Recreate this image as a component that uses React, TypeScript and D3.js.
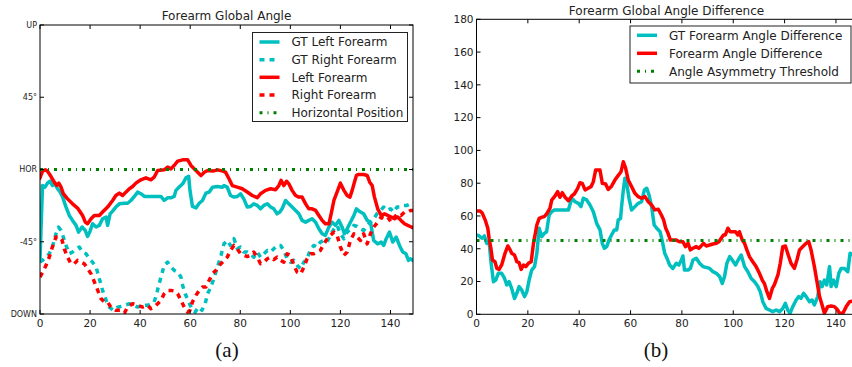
import React from 'react';
import * as d3 from 'd3';

type P = [number, number];

// ---------- Chart (a): Forearm Global Angle (frame, degrees) ----------
const framesTicks = [0, 20, 40, 60, 80, 100, 120, 140];
const angleTickValues = [90, 45, 0, -45, -90];
const angleTickLabels = ['UP', '45°', 'HOR', '-45°', 'DOWN'];

const gtLeftForearm: P[] = [
  [0, -56], [1, -10], [2, -11], [3, -8.5], [4, -7.3], [5, -10], [6, -9], [7, -12], [8, -14], [9, -17],
  [10.4, -23.4], [11.7, -28.6], [13, -31.7], [14.4, -34.8], [15.4, -39], [16.8, -35.8], [18.1, -38],
  [19, -41.7], [20, -38.4], [21, -33.8], [22.4, -35.8], [23.7, -34.8], [25, -30.7], [26.4, -29.6],
  [27, -34.8], [28, -27.6], [29, -25.9], [30.3, -23.4], [31.7, -21.4], [33.7, -21], [35, -21],
  [36.3, -19.3], [37.7, -16.8], [39, -14.1], [40.3, -15.1], [41.7, -16.8], [43.7, -16.8], [46.3, -16.8],
  [48.3, -16.8], [49.6, -19.3], [51, -17.6], [52.3, -17.6], [53.6, -16.8], [54.3, -13], [55.6, -10.9],
  [57, -8.9], [58.3, -5.2], [59.4, -4.3], [59.9, -13], [60.9, -23], [62.3, -23.9], [63.6, -21],
  [64.9, -19.3], [66.3, -14.7], [67.6, -14], [68.9, -11], [70.9, -10.6], [72.9, -11], [73.5, -10],
  [74.8, -11], [76.1, -16.2], [77.5, -17.2], [78.8, -16.8], [80.1, -15.1], [81.4, -18.3], [82.8, -23.4],
  [84.1, -23], [85.4, -21.4], [86.8, -22.4], [88.1, -24.5], [89.4, -22.4], [90.8, -21.4], [92.1, -23.4],
  [93.4, -24.5], [94.7, -27.6], [95.8, -26.5], [96.7, -24.5], [98.1, -19.3], [99.4, -21.4], [100.7, -23.4],
  [102.1, -25.5], [103.4, -27.6], [104.7, -31.7], [106.1, -32.8], [107.4, -31.7], [108.7, -30.7],
  [110.1, -32.8], [111.4, -36.9], [112.7, -40], [114, -41], [115.4, -35.9], [116.7, -32.8], [118, -34.8],
  [119.4, -31.7], [120.7, -35.9], [121.6, -40], [122.7, -36.9], [124, -32.8], [125.4, -28.6],
  [126.4, -24.5], [128, -26.5], [129.3, -27.6], [130.7, -31.7], [132, -32.8], [133.3, -44.2],
  [134.9, -46.3], [136.3, -45.2], [137.3, -47.3], [138.3, -43.1], [139.6, -39], [140.9, -45.2],
  [142.3, -42.1], [143.6, -47.3], [144.9, -51.4], [146.2, -52.5], [147.2, -56.6], [147.9, -55.6],
  [149, -56.6]
];

const gtRightForearm: P[] = [
  [0, -57.7], [1, -56.6], [2.4, -54.6], [3.7, -52.5], [5, -48], [6.4, -40], [7.4, -35.9], [8.4, -38],
  [9.3, -42], [10.4, -47.3], [11.7, -52.5], [13, -51.4], [14.4, -49.4], [15.7, -48.3], [17, -51.4],
  [18.4, -52.5], [19.7, -55.6], [21, -57.7], [22.4, -60.8], [23.7, -68], [25, -75.3], [26.4, -81.5],
  [27.7, -85.7], [29.3, -87.7], [31, -85.7], [32.3, -85.3], [33.7, -84.6], [35.7, -83.6], [37.7, -84.6],
  [39, -85.7], [41, -84.6], [43, -84.6], [44.3, -83.6], [45.6, -82.5], [46.6, -77.4], [47.6, -71],
  [48.7, -65], [49.6, -59.7], [51, -57.7], [52.3, -60.8], [53.6, -62.8], [55, -63.9], [56.3, -67],
  [57, -72.2], [58, -77.4], [59.4, -82.5], [60.7, -86.7], [62, -88.8], [63.3, -85.7], [64.7, -87.7],
  [66, -83.6], [66.9, -77.4], [68.3, -73.2], [69.6, -67], [70.9, -60.8], [72.3, -53.5], [73.5, -46.3],
  [74.8, -44.2], [76.1, -47.3], [77.5, -43.1], [78.8, -49.4], [80.1, -48.3], [81.4, -51.4], [82.8, -51.4],
  [84.1, -52.5], [85.4, -54.6], [86.8, -51.4], [88.1, -54.6], [89.4, -52.5], [90.8, -50.4], [92.1, -51.4],
  [93.4, -49.4], [94.7, -47.3], [96.1, -47.3], [97.4, -50.4], [98.7, -55.6], [100.1, -57.7],
  [101.4, -56.6], [102.7, -59.7], [104.1, -61.8], [105.4, -57.7], [106.7, -55.6], [108.1, -49.4],
  [109.4, -47.3], [110.7, -48.3], [112, -45.2], [113.4, -44.2], [114.7, -45.2], [116, -41], [117.4, -37.1],
  [118.7, -34.8], [120, -40], [121.4, -43.2], [122.7, -39], [124, -37.1], [125.4, -34.8], [126.7, -35.5],
  [128, -37.1], [129.3, -38], [130.7, -34.8], [132, -32.8], [133.3, -30.7], [134.6, -27.6], [136, -25.5],
  [137.3, -23.4], [138.6, -25.5], [140, -24.5], [141.3, -26.5], [142.6, -23.4], [144, -23.4],
  [145.3, -22.4], [146.6, -22.4], [148, -21.4], [149, -21.4]
];

const leftForearm: P[] = [
  [0, -5.2], [1, -1], [2.1, -0.2], [3, -1], [4.4, -4.4], [5.7, -7.9], [6.7, -9.9], [7.5, -8.5],
  [8.4, -11], [9.3, -15], [11, -18.3], [13, -21.4], [15, -24], [17, -28.6], [18.1, -32.8], [19, -33.8],
  [20.4, -30.7], [21.7, -28.6], [23.7, -28.6], [25, -26.5], [27, -23.4], [29, -19.3], [30.3, -16.2],
  [31.7, -14.7], [33, -16.2], [34.3, -14.1], [35.7, -12], [37, -10.6], [38.3, -8.5], [40.3, -6.4],
  [42.3, -5.2], [44.3, -6.4], [45.6, -4.8], [47, -0.6], [49.6, -0.2], [51, 1.5], [52.3, 0.4], [53.6, 2.5],
  [55, 5.2], [57, 6], [59, 6], [60.3, 2.5], [61.6, 0.4], [63, -1.7], [64.3, -3.8], [65.6, -1.7],
  [67, -0.6], [69, -1], [71, -0.2], [73, -1], [74.1, -1.6], [75.5, -5.8], [76.8, -10], [78.8, -11],
  [80.8, -12], [82.8, -14], [84.8, -16.2], [86.8, -17.6], [88.1, -15.1], [90.1, -13], [92.1, -12],
  [94.1, -12.6], [95.4, -10], [96.3, -6.8], [97.4, -10], [98.5, -7.3], [99.4, -8.9], [100.7, -13],
  [102.1, -16.2], [103.4, -17.2], [104.7, -17.2], [106.1, -21.4], [107.4, -24.5], [108.7, -24.5],
  [110.1, -25.5], [111.4, -28.6], [112.7, -31.7], [114, -33.8], [115.4, -33.8], [116.3, -27.6],
  [117.4, -19.3], [118.7, -14], [120, -8.5], [121.4, -13], [122.7, -16.2], [123.8, -17.2], [124.7, -13],
  [125.6, -7.9], [126.4, -3.7], [127.3, -3.1], [129.3, -3.1], [130.7, -3.7], [131.7, -7.9], [132.7, -10],
  [133.6, -17.2], [134.9, -24.5], [136.3, -28.6], [137.6, -27.6], [138.9, -28.6], [140.3, -29.6],
  [141.6, -30.7], [142.9, -29.6], [144.2, -31.7], [145.6, -33.8], [146.9, -34.8], [147.9, -35.5],
  [149, -36.3]
];

const rightForearm: P[] = [
  [0, -67], [1, -64], [2.4, -59.7], [3.7, -54.6], [5, -48], [6.4, -42], [7.7, -41.7], [8.8, -44],
  [9.7, -49.4], [11, -54.6], [12.4, -58.7], [13.7, -58.7], [15, -56.6], [16.4, -57.7], [17.7, -58.7],
  [19, -61.8], [20.4, -65], [21.7, -70], [23, -75], [24.4, -80.5], [25.7, -82.5], [27, -82.5],
  [28.3, -85.7], [30.3, -87.7], [32.3, -87.7], [33.7, -89.4], [35, -85.7], [37, -83.6], [39, -84.6],
  [41, -85.7], [43, -84.6], [44.3, -86.7], [45.6, -85.7], [47, -83.6], [48.3, -81.5], [49.6, -77.4],
  [51, -75.3], [52.3, -75.3], [53.6, -75.7], [55, -77.4], [56.3, -81.5], [57.6, -85.7], [59, -88.8],
  [59.9, -87.7], [60.9, -82.5], [62.3, -78.4], [63.6, -75.3], [64.9, -73.2], [66.3, -73.2], [67.6, -69],
  [68.9, -64.9], [70.3, -62.8], [71.6, -59.7], [72.9, -57.7], [74.8, -54.6], [76.1, -50.4], [77.5, -47.3],
  [78.8, -49.4], [80.1, -52.5], [81.4, -53.5], [82.8, -54.2], [84.1, -53.5], [85.4, -51.4], [86.8, -54.6],
  [88.1, -58.7], [89.4, -57.7], [90.8, -55.6], [92.1, -54.6], [93.4, -56.2], [94.7, -54.6], [96.1, -56.6],
  [97.4, -57.7], [98.7, -52.5], [100.1, -53.5], [101.4, -59.7], [102.7, -63.9], [104.1, -65],
  [105.4, -60.8], [106.7, -55.6], [108.1, -52.5], [109.4, -52.5], [110.7, -51.4], [112, -50.4],
  [113.4, -46.3], [114.7, -43.2], [116, -41], [117.4, -39], [118.7, -41], [120, -48.3], [121.4, -53.5],
  [122.7, -51.4], [124, -44.2], [125.4, -40], [126.7, -42.1], [128, -44.2], [129.3, -40], [130.7, -46.3],
  [132, -40], [133.3, -35.9], [134.9, -32.8], [136.3, -29.6], [137.6, -30.7], [138.9, -29.6],
  [140.3, -32.8], [141.6, -29.6], [142.9, -27.6], [144.2, -28.6], [145.6, -26.5], [146.9, -26.5],
  [148, -25.5], [149, -25.5]
];

const horizontalLevel: P[] = [[0, 0], [149, 0]];

// ---------- Chart (b): Forearm Global Angle Difference ----------
const diffTickValues = [0, 20, 40, 60, 80, 100, 120, 140, 160, 180];

const gtAngleDifference: P[] = [
  [0, 48.4], [1, 47.8], [2.1, 46.4], [3.1, 47.8], [4, 43.3], [4.9, 44.3], [5.7, 31.1], [6.6, 19.9],
  [7.5, 20.9], [8.5, 25], [9.8, 25], [10.9, 22], [11.8, 17.9], [12.7, 19.9], [13.7, 15.8], [14.8, 9.7],
  [15.7, 12.8], [16.6, 16.9], [17.6, 14.8], [18.7, 10.8], [19.6, 13.8], [20.5, 20.9], [21.5, 27],
  [22.6, 29.1], [23.5, 37.2], [24.4, 52.5], [25.4, 47.4], [26.4, 49.4], [27.3, 50.4], [28.3, 60.6],
  [29.3, 62.6], [30.3, 63.6], [31.9, 63.6], [33.8, 63.6], [35.8, 63.6], [37.1, 70.8], [38.4, 68.7],
  [39.7, 67.7], [40.7, 65.7], [41.6, 70.8], [42.9, 69.8], [44.2, 66.7], [45.5, 62.6], [46.8, 55.5],
  [48.1, 51.5], [49, 43.3], [49.8, 40.3], [50.7, 41.3], [51.6, 45.3], [52.6, 48.4], [53.7, 51.5],
  [54.6, 51.5], [55.2, 57.6], [56.1, 58.5], [56.5, 65.7], [57.2, 75.9], [57.8, 83], [58.5, 79.9],
  [59.4, 70.8], [60.4, 63.6], [61.7, 65.7], [63, 67.7], [64.3, 68.7], [65.4, 75.9], [66.3, 76.9],
  [67.2, 72.8], [68.2, 65.7], [69.2, 54.5], [70.2, 52.5], [71.5, 50.4], [72.4, 44.3], [73.3, 37.2],
  [74.2, 34.2], [75.2, 30.1], [76.5, 28], [77.8, 31.1], [78.8, 30.1], [79.8, 33.1], [80.4, 35.6],
  [81, 27], [82.4, 27], [83.3, 28], [84.3, 33.1], [85.6, 34.2], [86.9, 31.1], [88.2, 29.1], [89.5, 28.6],
  [90.8, 28], [92.1, 26], [93.4, 25], [94.7, 23], [95.7, 18.9], [96.6, 23], [97.5, 31.1], [98.6, 35.2],
  [99.6, 33.1], [100.9, 30.1], [101.9, 33.1], [103.1, 36.2], [104.4, 29.1], [105.7, 26], [107, 21.9],
  [108.3, 19.9], [109.6, 16.9], [110.5, 13.8], [111.5, 7.7], [112.8, 3.6], [114.1, 2.6], [115.4, 1.6],
  [116.7, 2.6], [118, 1.6], [119.3, 3.6], [120.3, 6.7], [121.2, 2.6], [122.1, 0.6], [123.2, 4.7],
  [124.5, 8.7], [125.5, 10.8], [126.4, 9.8], [127.4, 12.8], [128.4, 10.8], [129.7, 7.7], [130.7, 8.7],
  [131.6, 5.7], [132.9, 10.8], [133.8, 19.9], [134.6, 16.9], [135.5, 20.9], [136.4, 17.9], [137.5, 29.1],
  [138.1, 16.9], [139, 20.9], [140.1, 16.9], [141.1, 25], [142, 28], [143.3, 28], [144.6, 26],
  [145.5, 37.2], [147, 36], [148, 38]
];

const angleDifference: P[] = [
  [0, 63], [1.4, 63], [2.3, 61.6], [3.4, 57.5], [4.4, 52.5], [4.9, 46.4], [5.7, 39.3], [6.2, 33.1],
  [7.2, 32.1], [7.9, 28], [8.8, 27.4], [9.8, 30.1], [11.1, 37.2], [12.2, 41.7], [13.1, 39.3], [13.7, 37.2],
  [14.8, 36.2], [15.7, 32.1], [16.6, 31.5], [17.4, 27.4], [18.3, 30.1], [19.2, 29.1], [20.2, 31.1],
  [21.3, 32.1], [22.2, 43.3], [23.5, 54.5], [24.4, 58.5], [25.4, 59.2], [26.4, 59.6], [27.3, 61.2],
  [28.6, 64.7], [29.3, 69.7], [30.6, 72.2], [31.6, 74.8], [32.5, 71.4], [33.4, 74.2], [34.5, 71.4],
  [35.8, 69.3], [37.1, 72.2], [38.1, 73.4], [39.4, 76.8], [40.3, 80.3], [41.2, 79.9], [42.3, 75.9],
  [43.3, 76.8], [44.6, 77.9], [45.5, 80.9], [46.4, 88], [48.1, 88], [49, 79.9], [50.3, 79.5], [51.3, 76.2],
  [52.6, 78.2], [53.9, 81.9], [55, 84.3], [56.3, 87], [57.2, 93.1], [58.1, 89.1], [59.1, 81.9],
  [60.4, 77.9], [61.7, 73.8], [63, 71.8], [64.3, 70.8], [65.6, 71.8], [66.9, 68.7], [68.2, 66.7],
  [69.5, 63.7], [70.8, 64.1], [72, 60.6], [72.9, 57.5], [73.7, 52.5], [74.6, 49.4], [75.5, 45.3],
  [76.5, 45.3], [77.8, 45.3], [79.1, 44.3], [80.4, 44.3], [81.4, 41.3], [82.4, 43.3], [83.3, 39.3],
  [84.3, 40.3], [85.6, 41.3], [86.6, 40.3], [87.5, 41.7], [88.4, 43.3], [89.5, 41.7], [90.8, 42.3],
  [92.1, 42.9], [93.4, 43.3], [94.4, 44.3], [95.3, 46.4], [96.2, 48.4], [96.9, 48.4], [97.9, 52.5],
  [98.8, 50.4], [99.9, 50.4], [100.9, 50.4], [101.8, 48.4], [102.4, 50.4], [103.5, 45.3], [104.4, 43.3],
  [105.3, 39.3], [106.3, 35.2], [107.6, 32.1], [108.9, 29.1], [110.2, 25], [111.3, 20.9], [112.2, 18.5],
  [113.1, 13.8], [114.1, 9.7], [115.2, 15.8], [116, 17.9], [117.4, 24], [118.3, 31.1], [119.3, 41.3],
  [120.3, 41.7], [121.2, 37.2], [122.5, 31.1], [123.8, 28], [124.8, 33.1], [125.8, 39.3], [127.1, 41.3],
  [128.4, 43.3], [129.4, 44.3], [130.3, 39.3], [131.6, 29.1], [132.5, 20.9], [133.6, 10.8], [134.6, 5.7],
  [135.5, 0.6], [136.8, 4.7], [138.1, 5.1], [139.4, 4.7], [140.7, 2.6], [141.4, 0.6], [142.7, 0.6],
  [144, 4.7], [145.3, 7.7], [146.5, 8], [148, 8.5]
];

const asymmetryThreshold: P[] = [[0, 45], [148, 45]];

const CYAN = '#00bfbf';
const RED = '#ff0000';
const GREEN = '#008000';
const FONT = '"DejaVu Sans", sans-serif';

type Series = { data: P[]; color: string; dash?: string; width: number; label: string };

function Axes(props: {
  id: string;
  x: d3.ScaleLinear<number, number>;
  y: d3.ScaleLinear<number, number>;
  yTicks: number[];
  yLabels: string[];
  yFont: number;
  xTicks: number[];
  title: string;
  titleY: number;
  series: Series[];
  legend: { x: number; y: number; w: number; h: number; rowY: number[] };
}) {
  const { id, x, y, yTicks, yLabels, yFont, xTicks, title, titleY, series, legend } = props;
  const [x0, x1] = x.range();
  const [yb, yt] = y.range();
  const line = d3.line<P>().x(d => x(d[0])).y(d => y(d[1]));
  const tl = 4;
  return (
    <g>
      <defs>
        <clipPath id={id}>
          <rect x={x0} y={yt} width={x1 - x0} height={yb - yt} />
        </clipPath>
      </defs>
      <rect x={x0} y={yt} width={x1 - x0} height={yb - yt} fill="#fff" />
      <g clipPath={`url(#${id})`}>
        {series.map((s, i) => (
          <path key={i} d={line(s.data) || ''} fill="none" stroke={s.color} strokeWidth={s.width}
            strokeDasharray={s.dash} strokeLinejoin="round" strokeLinecap={s.dash ? 'butt' : 'square'} />
        ))}
      </g>
      {/* ticks */}
      {xTicks.map(t => (
        <g key={'xt' + t}>
          <line x1={x(t)} x2={x(t)} y1={yb} y2={yb - tl} stroke="#000" strokeWidth={1} />
          <line x1={x(t)} x2={x(t)} y1={yt} y2={yt + tl} stroke="#000" strokeWidth={1} />
          <text x={x(t)} y={yb + 12.5} textAnchor="middle" fontSize={10.5} fontFamily={FONT} fill="#222">{t}</text>
        </g>
      ))}
      {yTicks.map((t, i) => (
        <g key={'yt' + t}>
          <line x1={x0} x2={x0 + tl} y1={y(t)} y2={y(t)} stroke="#000" strokeWidth={1} />
          <line x1={x1} x2={x1 - tl} y1={y(t)} y2={y(t)} stroke="#000" strokeWidth={1} />
          <text x={x0 - 3} y={y(t)} dy="0.36em" textAnchor="end" fontSize={yFont} fontFamily={FONT} fill="#222">{yLabels[i]}</text>
        </g>
      ))}
      <rect x={x0} y={yt} width={x1 - x0} height={yb - yt} fill="none" stroke="#000" strokeWidth={1} />
      <text x={(x0 + x1) / 2} y={titleY} textAnchor="middle" fontSize={12} fontFamily={FONT} fill="#222">{title}</text>
      {/* legend */}
      <rect x={legend.x} y={legend.y} width={legend.w} height={legend.h} fill="#fff" stroke="#222" strokeWidth={1} />
      {series.map((s, i) => (
        <g key={'lg' + i}>
          <line x1={legend.x + 7} x2={legend.x + 27} y1={legend.rowY[i]} y2={legend.rowY[i]} stroke={s.color}
            strokeWidth={s.width} strokeDasharray={s.dash} />
          <text x={legend.x + 39} y={legend.rowY[i]} dy="0.36em" fontSize={12} fontFamily={FONT} fill="#222">{s.label}</text>
        </g>
      ))}
    </g>
  );
}

export default function App() {
  const xA = d3.scaleLinear().domain([0, 149]).range([40, 413]);
  const yA = d3.scaleLinear().domain([-90, 90]).range([314, 25]);
  const xB = d3.scaleLinear().domain([0, 148]).range([476.5, 856.5]);
  const yB = d3.scaleLinear().domain([0, 180]).range([314.3, 19.3]);

  const seriesA: Series[] = [
    { data: gtLeftForearm, color: CYAN, width: 3.5, label: 'GT Left Forearm' },
    { data: gtRightForearm, color: CYAN, width: 3.5, dash: '5,5', label: 'GT Right Forearm' },
    { data: leftForearm, color: RED, width: 3.5, label: 'Left Forearm' },
    { data: rightForearm, color: RED, width: 3.5, dash: '5,5', label: 'Right Forearm' },
    { data: horizontalLevel, color: GREEN, width: 3, dash: '3,5,1,5', label: 'Horizontal Position' },
  ];
  const seriesB: Series[] = [
    { data: gtAngleDifference, color: CYAN, width: 3.5, label: 'GT Forearm Angle Difference' },
    { data: angleDifference, color: RED, width: 3.5, label: 'Forearm Angle Difference' },
    { data: asymmetryThreshold, color: GREEN, width: 3, dash: '3,5,1,5', label: 'Angle Asymmetry Threshold' },
  ];

  return (
    <svg width={852} height={367} style={{ position: 'absolute', left: 0, top: 0, background: '#fff' }}>
      <rect x={0} y={0} width={852} height={367} fill="#fff" />
      <Axes id="clipA" x={xA} y={yA} yTicks={angleTickValues} yLabels={angleTickLabels} yFont={8}
        xTicks={framesTicks} title="Forearm Global Angle" titleY={20} series={seriesA}
        legend={{ x: 252.5, y: 32.5, w: 155, h: 89, rowY: [42, 59.7, 77.3, 95, 112.7] }} />
      <Axes id="clipB" x={xB} y={yB} yTicks={diffTickValues} yLabels={diffTickValues.map(String)} yFont={10.5}
        xTicks={framesTicks} title="Forearm Global Angle Difference" titleY={15} series={seriesB}
        legend={{ x: 630, y: 26, w: 221, h: 57, rowY: [35.3, 53.3, 71.3] }} />
      <text x={227} y={357} textAnchor="middle" fontSize={21} fontFamily='"Liberation Serif", serif' fill="#111">(a)</text>
      <text x={656} y={357} textAnchor="middle" fontSize={21} fontFamily='"Liberation Serif", serif' fill="#111">(b)</text>
    </svg>
  );
}
